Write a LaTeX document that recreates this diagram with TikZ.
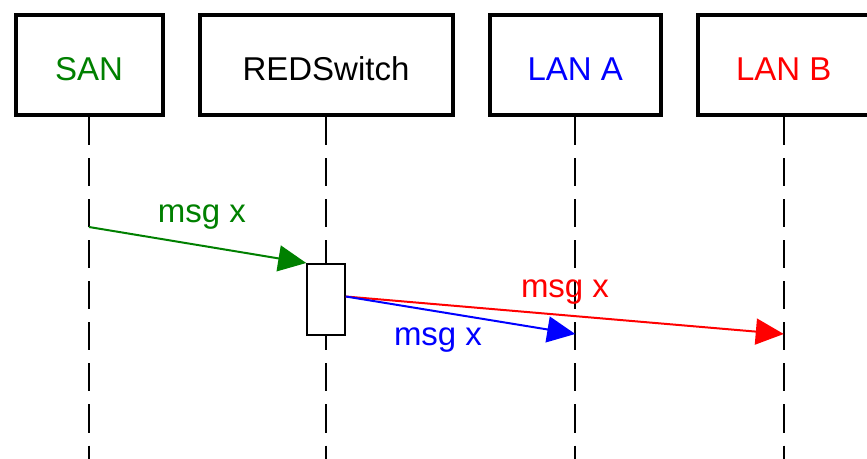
\documentclass[tikz,border=0pt]{standalone}
\usepackage{fontspec}
\setmainfont{Liberation Sans}
\usepackage{tikz}
\usetikzlibrary{positioning,arrows.meta}
\definecolor{sangreen}{RGB}{0,128,0}
\tikzset{
  part/.style={draw,line width=2pt,minimum height=50pt,
              text height=15pt,text depth=0pt,fill=white},
  actbox/.style={draw,line width=1pt,fill=white,
              minimum width=18.75pt,minimum height=35.5pt,inner sep=0pt},
  lifeline/.style={line width=1pt,dash pattern=on 14pt off 6.5pt},
  msg/.style={-{Triangle[length=14pt,width=13pt]},line width=1pt},
  msglabel/.style={inner sep=0pt},
}

\begin{document}
\begin{tikzpicture}[x=0.5pt,y=-0.5pt,
    every node/.style={font=\fontsize{16.5}{20}\selectfont},node distance=16.5pt]
  \useasboundingbox (0,0) rectangle (867,459);
  \coordinate (bottom) at (0,459);
  % participants
  \node[part,minimum width=73.5pt,text=sangreen] (san) at (89,65.5) {SAN};
  \node[part,minimum width=126.5pt,right=of san] (red) {REDSwitch};
  \node[part,minimum width=85.75pt,text=blue,right=of red] (lana) {LAN A};
  \node[part,minimum width=85.75pt,text=red,right=of lana] (lanb) {LAN B};
  \foreach \p in {san,red,lana,lanb}
    \draw[lifeline] (\p.south) -- (\p |- bottom);
  % message heights
  \coordinate (y1) at (0,227);
  \coordinate (y2) at (0,299.5);
  \coordinate (y3) at (0,296.5);
  \coordinate (y4) at (0,334);
  \node[actbox] (act) at (red |- y2) {};
  \draw[msg,sangreen] (san |- y1) -- (act.north west);
  \draw[msg,red] (act.east |- y3) -- (lanb |- y4);
  \draw[msg,blue] (act.east |- y3) -- (lana |- y4);
  \node[msglabel,text=sangreen] (lbl1) at (202,217) {msg x};
  \node[msglabel,text=red] (lbl2) at (565,292) {msg x};
  \node[msglabel,text=blue] (lbl3) at (438,340) {msg x};
\end{tikzpicture}
\end{document}
